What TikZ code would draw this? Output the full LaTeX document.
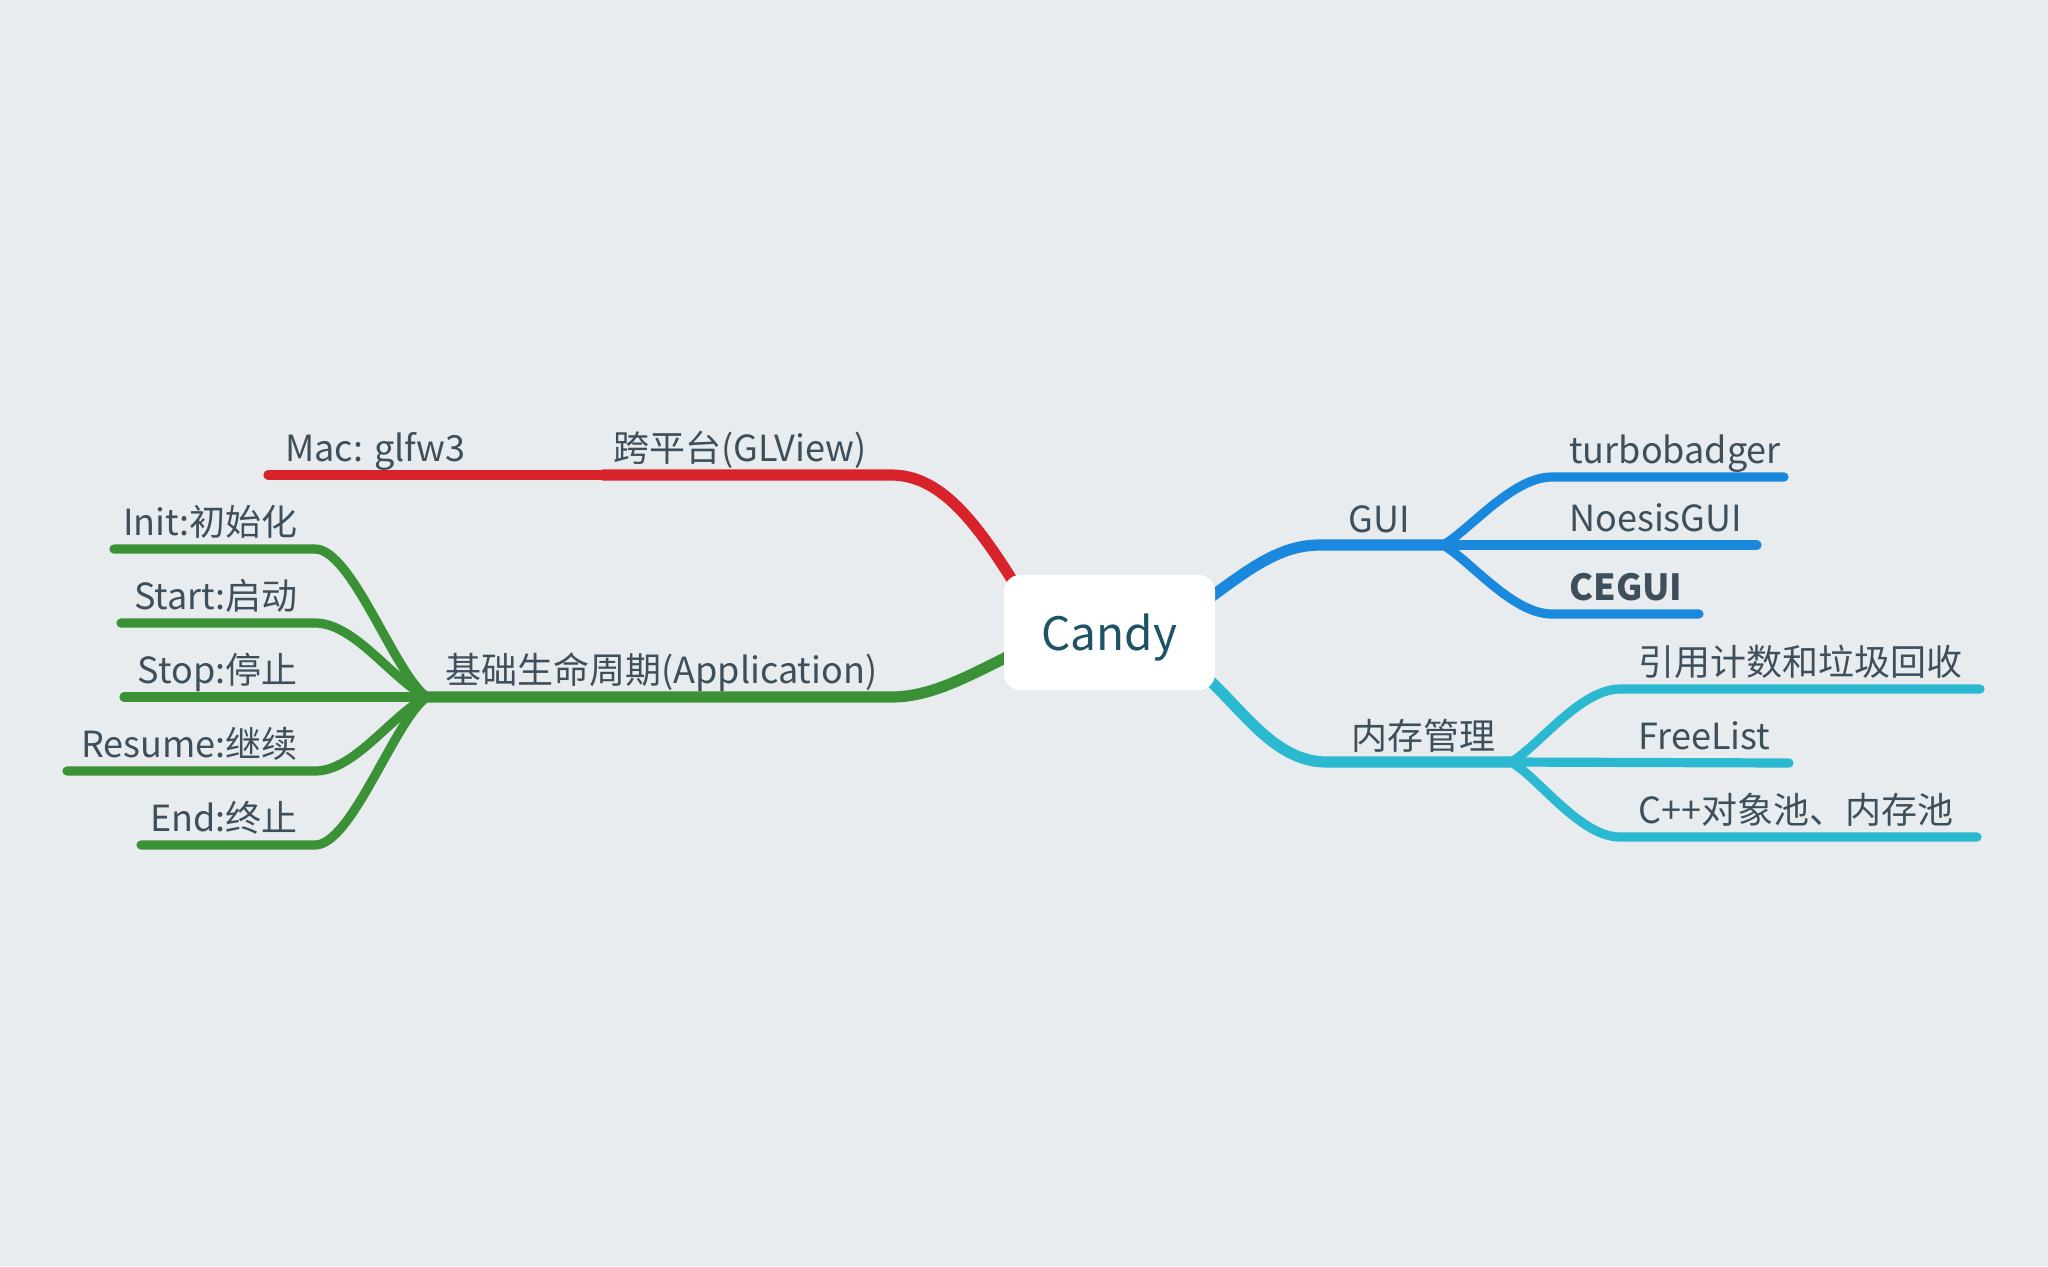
\documentclass[tikz,border=0pt]{standalone}
\usepackage{fontspec}
\setmainfont{Noto Sans CJK SC}
\usepackage{tikz}

\definecolor{bg}{HTML}{E8ECEF}
\definecolor{txt}{HTML}{3E4F5C}
\definecolor{root}{HTML}{1E5266}
\definecolor{cred}{HTML}{D9232B}
\definecolor{cgreen}{HTML}{3B9136}
\definecolor{cblue}{HTML}{1A88DD}
\definecolor{cteal}{HTML}{2BB9D1}
\pgfdeclarelayer{back}
\pgfdeclarelayer{wires}
\pgfsetlayers{back,wires,main}

\begin{document}
\begin{tikzpicture}[x=0.5pt,y=-0.5pt,
    topic/.style={font=\fontsize{18}{20}\selectfont,text=txt,inner sep=0pt},
    main/.style={line width=5.6pt,line cap=round},
    sub/.style={line width=4.6pt,line cap=round}]
      \begin{pgfonlayer}{back}
        \fill[bg] (0,0) rectangle (2048,1266);
      \end{pgfonlayer}
      \useasboundingbox (0,0) rectangle (2048,1266);

      \node[fill=white,rounded corners=8pt,minimum width=105.5pt,minimum height=57.5pt,text depth=0pt,
        text=root,font=\fontsize{23}{26}\selectfont] (1) at (1109.5,632.5) {Candy};

      % left: red
      \coordinate (r1) at (891,475);
      \coordinate (r2) at (603,475);
      \coordinate (r3) at (268,475);
      \node[topic,anchor=base west] (2) at (613,461) {跨平台(GLView)};
      \node[topic,anchor=base west] (3) at (285,461) {Mac: glfw3};

      % left: green
      \coordinate (g1) at (891,697);
      \coordinate (g0) at (427,697);
      \node[topic,anchor=base west] (4) at (445,683) {基础生命周期(Application)};
      \coordinate (k5) at (315,549);
      \coordinate (e5) at (114,549);
      \node[topic,anchor=base east] (5) at (298,535) {Init:初始化};
      \coordinate (k6) at (315,623);
      \coordinate (e6) at (121,623);
      \node[topic,anchor=base east] (6) at (298,609) {Start:启动};
      \coordinate (e7) at (124,697);
      \node[topic,anchor=base east] (7) at (298,683) {Stop:停止};
      \coordinate (k8) at (315,771);
      \coordinate (e8) at (67,771);
      \node[topic,anchor=base east] (8) at (298,757) {Resume:继续};
      \coordinate (k9) at (315,845);
      \coordinate (e9) at (141,845);
      \node[topic,anchor=base east] (9) at (298,831) {End:终止};

      % right: blue
      \coordinate (b1) at (1320,545);
      \coordinate (b0) at (1443,545);
      \node[topic,anchor=base west] (10) at (1348,532) {GUI};
      \coordinate (k11) at (1552,477);
      \coordinate (e11) at (1784,477);
      \node[topic,anchor=base west] (11) at (1569,463) {turbobadger};
      \coordinate (e12) at (1757,545);
      \node[topic,anchor=base west] (12) at (1569,531) {NoesisGUI};
      \coordinate (k13) at (1552,614);
      \coordinate (e13) at (1699,614);
      \node[topic,anchor=base west,font=\fontsize{18}{20}\selectfont\bfseries] (13) at (1569,600) {CEGUI};

      % right: teal
      \coordinate (t1) at (1327,762);
      \coordinate (t0) at (1511,762);
      \node[topic,anchor=base west] (14) at (1351,749) {内存管理};
      \coordinate (k15) at (1620,689);
      \coordinate (e15) at (1980,689);
      \node[topic,anchor=base west] (15) at (1638,675) {引用计数和垃圾回收};
      \coordinate (e16) at (1789,763);
      \node[topic,anchor=base west] (16) at (1638,749) {FreeList};
      \coordinate (k17) at (1620,837);
      \coordinate (e17) at (1977,837);
      \node[topic,anchor=base west] (17) at (1638,823) {C++对象池、内存池};

      \begin{pgfonlayer}{wires}
      \draw[main,cred] ([shift={(14,14)}]1.north west) .. controls (975,520) and (940,475) .. (r1) -- (r2);
      \draw[sub,cred] (r2) -- (r3);

      \draw[main,cgreen] ([shift={(12,20)}]1.west) .. controls (965,678) and (930,697) .. (g1) -- (g0);
      \draw[sub,cgreen] (g0) .. controls (395,675) and (352,549) .. (k5) -- (e5);
      \draw[sub,cgreen] (g0) .. controls (392,680) and (355,623) .. (k6) -- (e6);
      \draw[sub,cgreen] (g0) -- (e7);
      \draw[sub,cgreen] (g0) .. controls (392,714) and (355,771) .. (k8) -- (e8);
      \draw[sub,cgreen] (g0) .. controls (395,719) and (352,845) .. (k9) -- (e9);

      \draw[main,cblue] ([shift={(-12,28)}]1.north east) .. controls (1250,568) and (1280,545) .. (b1) -- (b0);
      \draw[sub,cblue] (b0) .. controls (1470,530) and (1512,477) .. (k11) -- (e11);
      \draw[sub,cblue] (b0) -- (e12);
      \draw[sub,cblue] (b0) .. controls (1470,560) and (1512,614) .. (k13) -- (e13);

      \draw[main,cteal] ([shift={(-12,-16)}]1.south east) .. controls (1245,712) and (1275,762) .. (t1) -- (t0);
      \draw[sub,cteal] (t0) .. controls (1538,747) and (1580,689) .. (k15) -- (e15);
      \draw[sub,cteal] (t0) -- (e16);
      \draw[sub,cteal] (t0) .. controls (1538,777) and (1580,837) .. (k17) -- (e17);
      \end{pgfonlayer}
    \end{tikzpicture}
\end{document}
